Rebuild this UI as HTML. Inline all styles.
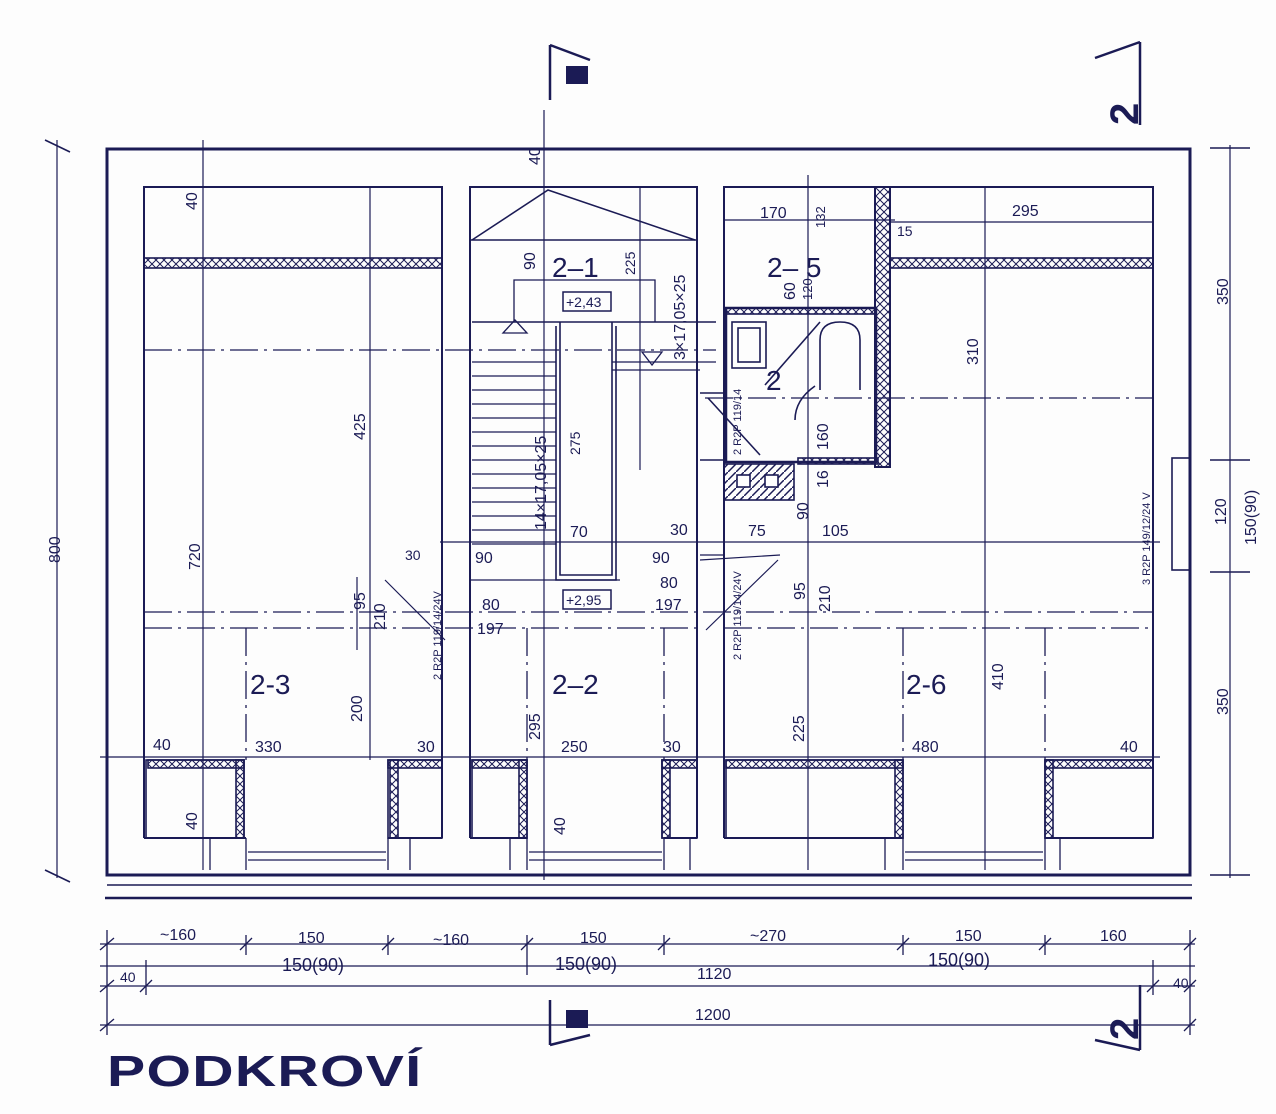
<!DOCTYPE html>
<html><head><meta charset="utf-8"><style>
body{margin:0;background:#fdfdfd;}
svg{display:block}
text{font-family:"Liberation Sans",sans-serif;fill:#1b1b55}
</style></head><body>
<svg width="1276" height="1114" viewBox="0 0 1276 1114" xmlns="http://www.w3.org/2000/svg">
<defs>
<pattern id="ins" width="8" height="8" patternUnits="userSpaceOnUse"><path d="M0 0L8 8M8 0L0 8" stroke="#1b1b55" stroke-width="1"/></pattern>
<pattern id="hat" width="8" height="8" patternUnits="userSpaceOnUse"><path d="M0 8L8 0" stroke="#1b1b55" stroke-width="1.5"/></pattern>
</defs>
<rect width="1276" height="1114" fill="#fdfdfd"/>
<g stroke="#1b1b55" fill="none" stroke-width="1.6">
<rect x="107" y="149" width="1083" height="726" stroke-width="3"/>
<line x1="107" y1="885" x2="1192" y2="885"/>
<line x1="105" y1="898" x2="1192" y2="898" stroke-width="2.5"/>
<path d="M144 838V187H442V838" stroke-width="2"/>
<rect x="144" y="258" width="298" height="10" fill="url(#ins)"/>
<line x1="144" y1="838" x2="246" y2="838" stroke-width="2"/>
<line x1="388" y1="838" x2="442" y2="838" stroke-width="2"/>
<path d="M470 838V187H697V838" stroke-width="2"/>
<path d="M472 240L548 190L695 240" />
<line x1="470" y1="240" x2="697" y2="240"/>
<line x1="470" y1="838" x2="527" y2="838" stroke-width="2"/>
<line x1="664" y1="838" x2="697" y2="838" stroke-width="2"/>
<path d="M724 838V187H875V308H724" stroke-width="2"/>
<path d="M890 187H1153V838" stroke-width="2"/>
<rect x="875" y="187" width="15" height="280" fill="url(#ins)" stroke-width="2"/>
<rect x="890" y="258" width="263" height="10" fill="url(#ins)"/>
<path d="M724 308V393M724 460V838" stroke-width="2"/>
<line x1="724" y1="838" x2="903" y2="838" stroke-width="2"/>
<line x1="1045" y1="838" x2="1153" y2="838" stroke-width="2"/>
<rect x="726" y="308" width="150" height="154" stroke-width="2.5"/>
<rect x="726" y="308" width="150" height="6" fill="url(#ins)"/>
<rect x="798" y="458" width="80" height="6" fill="url(#ins)"/>
<rect x="732" y="322" width="34" height="46"/><rect x="738" y="328" width="22" height="34"/>
<path d="M820 390V340Q820 322 840 322Q860 322 860 340V390"/>
<path d="M765 385L820 322"/><path d="M795 420Q795 400 815 386"/>
<rect x="724" y="464" width="70" height="36" fill="url(#hat)"/>
<rect x="737" y="475" width="13" height="12" fill="#fff"/><rect x="765" y="475" width="13" height="12" fill="#fff"/>
<path d="M700 393H724V460H700"/>
<path d="M708 398L760 455"/>
<rect x="1172" y="458" width="18" height="112"/>
<rect x="146" y="760" width="98" height="78"/><rect x="148" y="760" width="96" height="8" fill="url(#ins)"/><rect x="236" y="760" width="8" height="78" fill="url(#ins)"/>
<rect x="388" y="760" width="54" height="78"/><rect x="388" y="760" width="54" height="8" fill="url(#ins)"/><rect x="390" y="760" width="8" height="78" fill="url(#ins)"/>
<rect x="472" y="760" width="55" height="78"/><rect x="472" y="760" width="55" height="8" fill="url(#ins)"/><rect x="519" y="760" width="8" height="78" fill="url(#ins)"/>
<rect x="662" y="760" width="35" height="78"/><rect x="662" y="760" width="35" height="8" fill="url(#ins)"/><rect x="662" y="760" width="8" height="78" fill="url(#ins)"/>
<rect x="726" y="760" width="177" height="78"/><rect x="726" y="760" width="177" height="8" fill="url(#ins)"/><rect x="895" y="760" width="8" height="78" fill="url(#ins)"/>
<rect x="1045" y="760" width="108" height="78"/><rect x="1045" y="760" width="108" height="8" fill="url(#ins)"/><rect x="1045" y="760" width="8" height="78" fill="url(#ins)"/>
<g stroke-width="1.3">
<path d="M246 838V870M388 838V870M248 852H386M248 860H386"/>
<path d="M527 838V870M664 838V870M529 852H662M529 860H662"/>
<path d="M903 838V870M1045 838V870M905 852H1043M905 860H1043"/>
<path d="M210 838V870M410 838V870M510 838V870M690 838V870M885 838V870M1060 838V870"/>
</g>
<path d="M472 322H716"/>
<path d="M560 322V575H612V322M556 326V580H616V326"/>
<g stroke-width="1.3">
<path d="M472 362H556M472 376H556M472 390H556M472 404H556M472 418H556M472 432H556M472 446H556M472 460H556M472 474H556M472 488H556M472 502H556M472 516H556M472 530H556M472 544H556"/>
<path d="M612 362H716M612 370H700"/>
<path d="M514 322V280H655V322"/>
<path d="M515 320L503 333H527Z"/>
<path d="M652 365L642 352H662Z"/>
<path d="M470 580H620"/>
</g>
<g stroke-width="1.3" stroke-dasharray="28 6 3 6">
<line x1="144" y1="350" x2="716" y2="350"/>
<line x1="144" y1="612" x2="1153" y2="612"/>
<line x1="144" y1="628" x2="700" y2="628"/>
<line x1="724" y1="628" x2="1153" y2="628"/>
<line x1="705" y1="398" x2="1153" y2="398"/>
<line x1="246" y1="628" x2="246" y2="760"/>
<line x1="527" y1="628" x2="527" y2="760"/>
<line x1="664" y1="628" x2="664" y2="760"/>
<line x1="903" y1="628" x2="903" y2="760"/>
<line x1="1045" y1="628" x2="1045" y2="760"/>
</g>
<g stroke-width="1.2">
<line x1="203" y1="140" x2="203" y2="870"/>
<line x1="370" y1="187" x2="370" y2="760"/>
<line x1="544" y1="110" x2="544" y2="880"/>
<line x1="640" y1="187" x2="640" y2="470"/>
<line x1="808" y1="175" x2="808" y2="870"/>
<line x1="985" y1="187" x2="985" y2="870"/>
<line x1="100" y1="757" x2="1160" y2="757"/>
<line x1="440" y1="542" x2="1160" y2="542"/>
<line x1="724" y1="220" x2="895" y2="220"/>
<line x1="890" y1="222" x2="1153" y2="222"/>
<line x1="357" y1="577" x2="357" y2="650"/>
<path d="M385 580L445 640M700 560L780 555M706 630L778 560"/>
<line x1="700" y1="555" x2="724" y2="555"/>
</g>
<line x1="57" y1="140" x2="57" y2="878" stroke-width="1.2"/>
<path d="M45 140L70 152M45 870L70 882" />
<line x1="1230" y1="145" x2="1230" y2="878" stroke-width="1.2"/>
<line x1="1210" y1="148" x2="1250" y2="148"/><line x1="1210" y1="460" x2="1250" y2="460"/><line x1="1210" y1="572" x2="1250" y2="572"/><line x1="1210" y1="875" x2="1250" y2="875"/>
<g stroke-width="1.3">
<line x1="100" y1="944" x2="1195" y2="944"/>
<line x1="100" y1="966" x2="1195" y2="966"/>
<line x1="100" y1="986" x2="1195" y2="986"/>
<line x1="100" y1="1025" x2="1195" y2="1025"/>
<path d="M107 930V1035M1190 930V1035M146 960V995M1153 960V995M246 935V955M388 935V955M527 935V975M664 935V955M903 935V955M1045 935V955"/>
<path d="M100 950L114 938M240 950L252 938M382 950L394 938M521 950L533 938M658 950L670 938M897 950L909 938M1039 950L1051 938M1184 950L1196 938"/>
<path d="M100 992L114 980M140 992L152 980M1147 992L1159 980M1184 992L1196 980M100 1031L114 1019M1184 1031L1196 1019"/>
</g>
<path d="M550 45V100M550 45L590 60" stroke-width="2.5"/>
<path d="M1140 42L1095 58M1140 42V125" stroke-width="2.5"/>
<path d="M550 1000V1045M550 1045L590 1035" stroke-width="2.5"/>
<path d="M1140 1050L1095 1040M1140 1050V985" stroke-width="2.5"/>
</g>
<rect x="566" y="66" width="22" height="18" fill="#1b1b55"/>
<rect x="566" y="1010" width="22" height="18" fill="#1b1b55"/>
<text x="1098" y="125" font-size="40" font-weight="bold" transform="rotate(-90 1118 105)">2</text>
<text x="1098" y="1040" font-size="40" font-weight="bold" transform="rotate(-90 1118 1020)">2</text>
<g font-size="28">
<text x="552" y="277">2–1</text><text x="767" y="277">2– 5</text>
<text x="250" y="694">2-3</text><text x="552" y="694">2–2</text><text x="906" y="694">2-6</text>
<text x="766" y="390">2</text>
</g>
<g font-size="16">
<rect x="563" y="292" width="48" height="19" fill="none" stroke="#1b1b55" stroke-width="1.5"/><text x="566" y="307" font-size="14">+2,43</text>
<rect x="563" y="590" width="48" height="19" fill="none" stroke="#1b1b55" stroke-width="1.5"/><text x="566" y="605" font-size="14">+2,95</text>
<text x="760" y="218">170</text><text x="1012" y="216">295</text><text x="897" y="236" font-size="14">15</text>
<text x="153" y="750">40</text><text x="255" y="752">330</text><text x="417" y="752">30</text>
<text x="561" y="752">250</text><text x="663" y="752">30</text>
<text x="912" y="752">480</text><text x="1120" y="752">40</text>
<text x="475" y="563">90</text><text x="570" y="537">70</text><text x="670" y="535">30</text>
<text x="748" y="536">75</text><text x="822" y="536">105</text>
<text x="652" y="563">90</text><text x="660" y="588">80</text><text x="655" y="610">197</text>
<text x="482" y="610">80</text><text x="477" y="634">197</text>
<text x="405" y="560" font-size="14">30</text>
<text x="160" y="940">~160</text><text x="298" y="943">150</text><text x="433" y="945">~160</text>
<text x="580" y="943">150</text><text x="750" y="941">~270</text><text x="955" y="941">150</text><text x="1100" y="941">160</text>
<text x="282" y="971" font-size="18">150(90)</text><text x="555" y="970" font-size="18">150(90)</text><text x="928" y="966" font-size="18">150(90)</text>
<text x="697" y="979">1120</text><text x="695" y="1020">1200</text>
<text x="120" y="982" font-size="14">40</text><text x="1173" y="988" font-size="14">40</text>
</g>
<g font-size="16">
<text transform="translate(60 563) rotate(-90)">800</text>
<text transform="translate(1228 305) rotate(-90)">350</text>
<text transform="translate(1228 715) rotate(-90)">350</text>
<text transform="translate(1226 525) rotate(-90)">120</text>
<text transform="translate(1256 545) rotate(-90)">150(90)</text>
<text transform="translate(200 570) rotate(-90)">720</text>
<text transform="translate(365 440) rotate(-90)">425</text>
<text transform="translate(197 210) rotate(-90)">40</text>
<text transform="translate(197 830) rotate(-90)">40</text>
<text transform="translate(540 165) rotate(-90)">40</text>
<text transform="translate(535 270) rotate(-90)">90</text>
<text transform="translate(635 275) rotate(-90)" font-size="14">225</text>
<text transform="translate(580 455) rotate(-90)" font-size="14">275</text>
<text transform="translate(546 530) rotate(-90)">14×17,05×25</text>
<text transform="translate(685 360) rotate(-90)">3×17,05×25</text>
<text transform="translate(365 610) rotate(-90)">95</text>
<text transform="translate(385 630) rotate(-90)">210</text>
<text transform="translate(362 722) rotate(-90)">200</text>
<text transform="translate(540 740) rotate(-90)">295</text>
<text transform="translate(804 742) rotate(-90)">225</text>
<text transform="translate(1003 690) rotate(-90)">410</text>
<text transform="translate(978 365) rotate(-90)">310</text>
<text transform="translate(828 450) rotate(-90)">160</text>
<text transform="translate(825 228) rotate(-90)" font-size="13">132</text>
<text transform="translate(795 300) rotate(-90)">60</text>
<text transform="translate(812 300) rotate(-90)" font-size="13">120</text>
<text transform="translate(805 600) rotate(-90)">95</text>
<text transform="translate(830 612) rotate(-90)">210</text>
<text transform="translate(808 520) rotate(-90)">90</text>
<text transform="translate(828 488) rotate(-90)">16</text>
<text transform="translate(565 835) rotate(-90)">40</text>
<text transform="translate(1150 585) rotate(-90)" font-size="11">3 R2P 149/12/24 V</text>
<text transform="translate(441 680) rotate(-90)" font-size="11">2 R2P 119/14/24V</text>
<text transform="translate(741 660) rotate(-90)" font-size="11">2 R2P 119/14/24V</text>
<text transform="translate(741 455) rotate(-90)" font-size="11">2 R2P 119/14</text>
</g>
<text font-size="44" font-weight="900" transform="translate(107 1086) scale(1.3 1)" letter-spacing="1">PODKROVÍ</text>
</svg>
</body></html>
